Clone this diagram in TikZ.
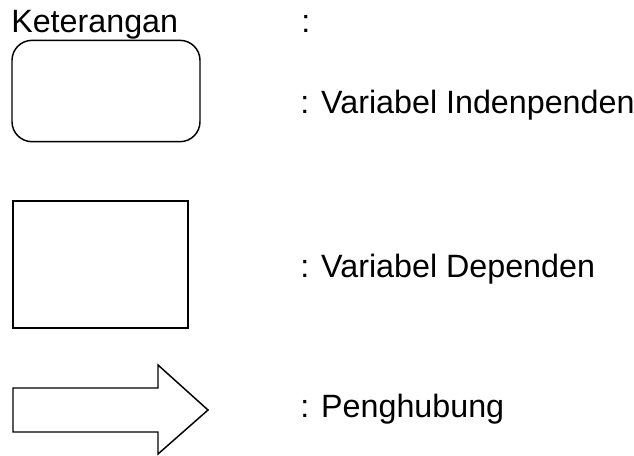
\documentclass[tikz,border=0pt]{standalone}
\usepackage{fontspec}
\setmainfont{Liberation Sans}
\begin{document}
\begin{tikzpicture}[x=0.75pt,y=-0.75pt,
  lbl/.style={anchor=base west,inner sep=0pt,font=\fontsize{24.2}{29}\selectfont},
  shp/.style={draw=black,line width=1.1pt,inner sep=0pt}]
\useasboundingbox (0,0) rectangle (634,455);
\node[lbl] (ket) at (11,32) {Keterangan};
\node[lbl] (col) at (301,32) {:};
\node[shp,rounded corners=15pt,minimum width=141pt,minimum height=76pt] (indep) at (106,91) {};
\node[lbl] (tindep) at (300,113) {: Variabel Indenpenden};
\node[shp,minimum width=131.5pt,minimum height=95pt] (dep) at (100.5,264.5) {};
\node[lbl] (tdep) at (300,277) {: Variabel Dependen};
\draw[shp,line join=miter] (13,388) -- (158,388) -- (158,365) -- (208,410) -- (158,454) -- (158,432) -- (13,432) -- cycle;
\node[lbl] (tpen) at (300,417) {: Penghubung};
\end{tikzpicture}
\end{document}
